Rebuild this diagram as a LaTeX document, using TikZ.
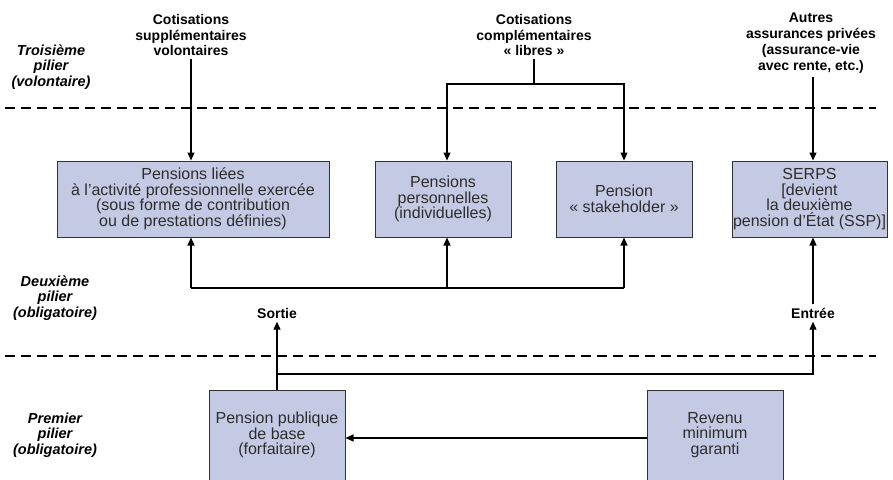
\documentclass[tikz,border=0pt]{standalone}
\usepackage{fontspec}
\setmainfont{Liberation Sans}
\usetikzlibrary{arrows.meta}
\definecolor{boxfill}{RGB}{197,202,228}
\definecolor{boxline}{RGB}{50,50,50}
\definecolor{boxtext}{RGB}{45,45,45}
\begin{document}
\begin{tikzpicture}[x=1pt,y=-1pt,
  box/.style={draw=boxline, fill=boxfill, line width=1pt, align=center, inner sep=0pt,
    font=\fontsize{16}{15.5}\selectfont, text=boxtext},
  toplabel/.style={align=center, font=\bfseries\fontsize{14}{15.8}\selectfont},
  pillar/.style={align=center, font=\bfseries\itshape\fontsize{14.5}{15.5}\selectfont},
  arr/.style={-{Triangle[length=8pt,width=7pt]}, line width=1.1pt},
  ln/.style={line width=1.1pt},
  sep/.style={dash pattern=on 10pt off 6pt, line width=1.2pt}]
\useasboundingbox (0,0) rectangle (893,479);
\clip (0,0) rectangle (893,479);
\fill[white] (0,0) rectangle (893,479);

% separators
\coordinate (s1a) at (5,108); \coordinate (s1b) at (876,108);
\coordinate (s2a) at (5,356); \coordinate (s2b) at (876,356);
\draw[sep] (s1a) -- (s1b);
\draw[sep] (s2a) -- (s2b);

% pillar labels
\node[pillar] (p3) at (51,67) {Troisième\\pilier\\(volontaire)};
\node[pillar] (p2) at (55,298) {Deuxième\\pilier\\(obligatoire)};
\node[pillar] (p1) at (55,435) {Premier\\pilier\\(obligatoire)};

% top labels
\node[toplabel] (l1) at (191,35) {Cotisations\\supplémentaires\\volontaires};
\node[toplabel] (l2) at (534,35) {Cotisations\\complémentaires\\« libres »};
\node[toplabel] (l3) at (811,43) {Autres\\assurances privées\\(assurance-vie\\avec rente, etc.)};

% boxes
\node[box, minimum width=272pt, minimum height=76pt] (b1) at (193,199)
  {Pensions liées\\à l’activité professionnelle exercée\\(sous forme de contribution\\ou de prestations définies)};
\node[box, minimum width=136pt, minimum height=76pt] (b2) at (443,199)
  {Pensions\\personnelles\\(individuelles)};
\node[box, minimum width=136pt, minimum height=76pt] (b3) at (624,199)
  {Pension\\« stakeholder »};
\node[box, minimum width=155pt, minimum height=76pt] (b4) at (809.5,199)
  {SERPS\\{[}devient\\la deuxième\\pension d’État (SSP)]};
\node[box, minimum width=136pt, minimum height=90pt] (b5) at (277,435)
  {Pension publique\\de base\\(forfaitaire)};
\node[box, minimum width=136pt, minimum height=90pt] (b6) at (715,435)
  {Revenu\\minimum\\garanti};

% sortie / entree
\node[toplabel] (so) at (277,313) {Sortie};
\node[toplabel] (en) at (813,313) {Entrée};

% top connectors
\draw[arr] (l1.south) -- (l1.south |- b1.north);
\coordinate (t2) at (534,84);
\coordinate (t2l) at (447,84);
\coordinate (t2r) at (624,84);
\draw[ln] (l2.south) -- (t2);
\draw[arr] (t2) -| (b2.north -| t2l);
\draw[arr] (t2) -| (b3.north -| t2r);
\draw[arr] (l3.south -| en) -- (b4.north -| en);

% second pillar bus
\coordinate (u1) at (191,288);
\coordinate (u2) at (447,288);
\coordinate (u3) at (624,288);
\draw[ln] (u1) -- (u3);
\draw[arr] (u1) -- (b1.south -| u1);
\draw[arr] (u2) -- (b2.south -| u2);
\draw[arr] (u3) -- (b3.south -| u3);

% sortie / entree connectors
\draw[arr] (b5.north) -- (so.south);
\coordinate (e1) at (277,374);
\draw[arr] (e1) -| (en.south);
\draw[arr] (en.north) -- (b4.south -| en);

% first pillar
\draw[arr] ([yshift=-3pt]b6.west) -- ([yshift=-3pt]b5.east);
\end{tikzpicture}
\end{document}
